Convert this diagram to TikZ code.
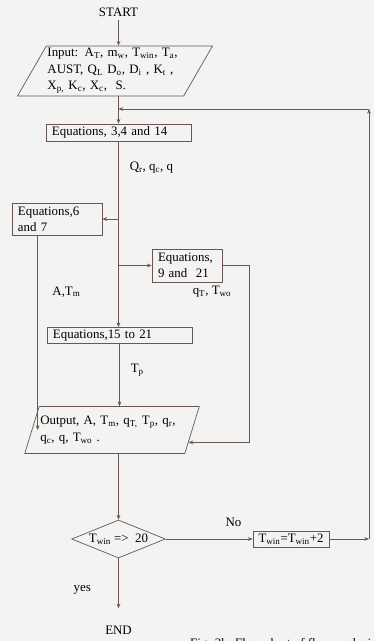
\documentclass[tikz,border=0pt]{standalone}
\usepackage{fontspec}
\setmainfont{Liberation Serif}
\usetikzlibrary{positioning,arrows.meta,shapes.geometric,calc}
\definecolor{clinea}{HTML}{6A5658}
\definecolor{cfondo}{HTML}{F3F3F1}
\tikzset{
  etq/.style={font=\fontsize{11}{14}\selectfont, text=black},
  eqbox/.style={rectangle, draw=clinea, line width=0.6pt, align=left,
    inner xsep=0.18cm, inner ysep=1pt, etq},
  iobox/.style={trapezium, trapezium left angle=60, trapezium right angle=120,
    draw=clinea, line width=0.6pt, align=left, text width=4.05cm,
    inner xsep=1pt, inner ysep=2pt, etq},
  decision/.style={diamond, draw=clinea, line width=0.6pt, aspect=2.5,
    inner sep=1pt, minimum width=2.79cm, minimum height=1.14cm, etq},
  flecha/.style={-{Stealth[length=4pt,width=3.2pt]}, draw=clinea, line width=0.6pt},
}

\begin{document}
\begin{tikzpicture}[x=0.03cm, y=-0.03cm]
  \path[use as bounding box, fill=cfondo] (0,0) rectangle (374,641);
  \node[etq] (start) at (118.5,12) {START};
  \node[iobox] (input) at (115,71) {Input: A\textsubscript{T}, m\textsubscript{w}, T\textsubscript{win}, T\textsubscript{a},\\
    AUST, Q\textsubscript{L} D\textsubscript{o}, D\textsubscript{i} , K\textsubscript{t} ,\\
    X\textsubscript{p,} K\textsubscript{c}, X\textsubscript{c},~ S.};
  \node[eqbox, text width=3.99cm, minimum height=0.51cm] (eqa) at (118.5,132.5) {Equations, 3,4 and 14};
  \node[eqbox, text width=2.34cm, minimum height=0.96cm] (eqb) at (57,219) {Equations,6\\and 7};
  \node[eqbox, text width=1.74cm, minimum height=0.99cm] (eqc) at (187,265.5) {Equations,\\9 and~ 21};
  \node[etq] (qt) at (212,292) {q\textsubscript{T}, T\textsubscript{wo}};
  \node[eqbox, text width=3.99cm, minimum height=0.48cm] (eqd) at (119.5,335.5) {Equations,15 to 21};
  \node[iobox, trapezium left angle=66, trapezium right angle=114, trapezium stretches=true,
    text width=4.3cm, minimum height=1.41cm] (out) at (112,430) {Output, A, T\textsubscript{m}, q\textsubscript{T,} T\textsubscript{p}, q\textsubscript{r},\\
    q\textsubscript{c}, q, T\textsubscript{wo} .\\[4pt]};
  \node[decision] (dec) at (118.5,539) {T\textsubscript{win} =>~ 20};
  \node[eqbox, minimum width=2.28cm, minimum height=0.48cm, inner xsep=1pt] (inc) at (291,539) {T\textsubscript{win}=T\textsubscript{win}+2};
  \node[etq] (fin) at (118.5,630) {END};
  \node[etq, anchor=base west] (pie) at (186,647) {Fig. 3b. Flow chart of flow analysis};
  \coordinate (rb) at (369,539);
  \coordinate (rt) at (369,109);
  \coordinate (bl) at ($(eqb.south west)+(26,0)$);
  \coordinate (oin) at ($(out.top right corner)!0.76!(out.bottom right corner)$);
  % main column
  \draw[flecha] (start) -- (start |- input.north);
  \draw[flecha] (eqa |- input.south) -- (eqa);
  \draw[flecha] (eqa) -- (eqa |- eqd.north) node[etq, pos=0.14, right=6pt] {Q\textsubscript{r}, q\textsubscript{c}, q};
  \draw[flecha] (eqa |- eqb.east) -- (eqb);
  \draw[flecha] (eqa |- eqc.west) -- (eqc);
  \draw[flecha] (bl) -- (bl |- out.west) node[etq, pos=0.29, right=9pt] {A,T\textsubscript{m}};
  \draw[flecha] (eqc.east) -- ++(27,0) |- (oin);
  \draw[flecha] (eqd) -- (eqd |- out.north) node[etq, pos=0.43, right=6pt] {T\textsubscript{p}};
  \draw[flecha] (dec.north |- out.south) -- (dec);
  \draw[flecha] (dec) -- (inc) node[etq, pos=0.78, above=7pt] {No};
  \draw[flecha] (dec) -- ([yshift=4mm]fin.north) node[etq, pos=0.63, left=20pt] {yes};
  % loop back
  \draw[flecha] (inc) -- (rb);
  \draw[flecha] (rb) -- (rt);
  \draw[flecha] (rt) -- (rt -| eqa);
\end{tikzpicture}
\end{document}
